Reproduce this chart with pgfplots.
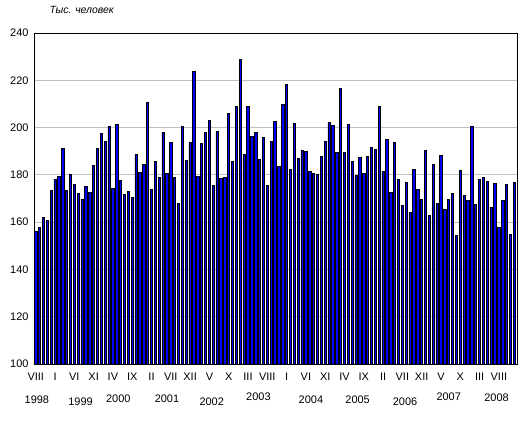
\documentclass[border=0pt]{standalone}
\usepackage{fontspec}
\setmainfont{Liberation Sans}
\usepackage{pgfplots}
\pgfplotsset{compat=1.18}
\definecolor{barblue}{RGB}{0,0,255}
\definecolor{gridgray}{RGB}{192,192,192}
\begin{document}
\begin{tikzpicture}
\useasboundingbox (-34bp,-58bp) rectangle (497bp,364bp);
\begin{axis}[
  at={(0,0)}, anchor=south west,
  scale only axis, width=483bp, height=331bp,
  xmin=-0.45, xmax=124.7, ymin=100, ymax=240,
  ytick={100,120,...,240},
  xtick={0,5,...,120},
  xticklabels={VIII,I,VI,XI,IV,IX,II,VII,XII,V,X,III,VIII,I,VI,XI,IV,IX,II,VII,XII,V,X,III,VIII},
  ymajorgrids, major grid style={gridgray, line width=0.8bp},
  major tick length=0pt,
  axis line style={black, line width=0.8bp},
  tick label style={font=\fontsize{11}{13}\selectfont},
  /pgf/number format/assume math mode=true,
  yticklabel style={xshift=-2bp},
  xticklabel style={yshift=-5bp},
  clip=false,
]
\addplot[ybar, bar width=0.6, fill=barblue, draw=black, line width=0.75bp] table[x=i,y=v] {
i v
0 156.3
1 157.9
2 162.1
3 160.8
4 173.5
5 178.2
6 179.4
7 191.3
8 173.5
9 180.3
10 176.1
11 172.3
12 169.7
13 175.2
14 172.4
15 184.1
16 191.3
17 197.6
18 194.2
19 200.6
20 174.4
21 201.4
22 177.7
23 171.8
24 173.1
25 170.6
26 188.7
27 181.1
28 184.5
29 210.7
30 173.9
31 185.8
32 179.0
33 198.0
34 180.6
35 193.8
36 179.0
37 168.0
38 200.6
39 186.2
40 193.8
41 223.8
42 179.4
43 193.4
44 198.0
45 203.1
46 175.6
47 198.5
48 178.6
49 179.0
50 206.1
51 185.8
52 209.0
53 228.9
54 188.7
55 209.0
56 196.3
57 198.0
58 186.6
59 195.9
60 175.6
61 194.2
62 202.7
63 183.7
64 209.9
65 218.3
66 182.4
67 201.8
68 187.0
69 190.4
70 190.0
71 181.5
72 180.7
73 180.3
74 187.9
75 194.2
76 202.3
77 201.0
78 189.6
79 216.6
80 189.6
81 201.4
82 185.8
83 179.9
84 187.5
85 180.7
86 187.9
87 191.7
88 190.8
89 209.0
90 181.5
91 195.1
92 172.7
93 193.8
94 178.2
95 167.2
96 176.9
97 164.2
98 182.4
99 173.9
100 169.7
101 190.4
102 163.0
103 184.5
104 168.0
105 188.3
106 165.5
107 169.7
108 172.3
109 154.5
110 182.0
111 171.4
112 169.3
113 200.6
114 167.6
115 178.2
116 179.0
117 177.3
118 166.3
119 176.5
120 157.9
121 169.3
122 176.1
123 154.9
124 176.9
};
\draw[black, line width=0.8bp] (rel axis cs:0,0) rectangle (rel axis cs:1,1);
\node[anchor=base west, font=\fontsize{10.5}{12}\selectfont\itshape] at ([xshift=12bp,yshift=19bp]rel axis cs:0,1) {Тыс. человек};
\foreach \p/\yr/\dy in {0.3/1998/0, 11.6/1999/-2, 21.4/2000/1, 34/2001/1, 45.6/2002/-2, 57.7/2003/3, 71.3/2004/0, 83.4/2005/0, 95.7/2006/-2, 107/2007/3, 119.4/2008/2} {
  \edef\tmp{\noexpand\node[font=\noexpand\fontsize{11}{13}\noexpand\selectfont] at ([yshift=\dy bp-36bp]axis cs:\p,100) {\yr};}
  \tmp
}
\end{axis}
\end{tikzpicture}
\end{document}
